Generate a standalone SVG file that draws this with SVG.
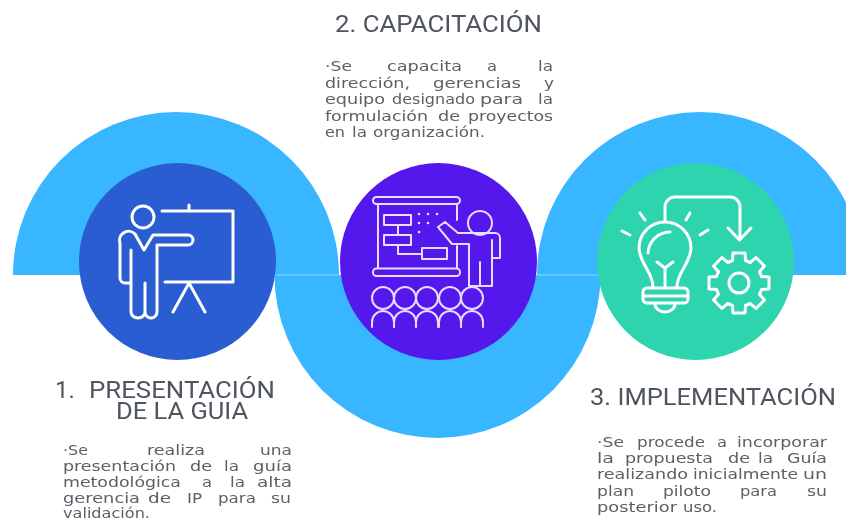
<svg xmlns="http://www.w3.org/2000/svg" xmlns:xlink="http://www.w3.org/1999/xlink" width="846" height="521" viewBox="0 0 846 521">
<defs>
<style>
.band{fill:#38B6FF}
.seam{stroke:#8fd6ff;stroke-width:1;fill:none}
.ico{fill:none;stroke:#fff;stroke-width:3;stroke-linecap:round;stroke-linejoin:round}
.ico2{fill:none;stroke:#e6dcff;stroke-width:2;stroke-linecap:round;stroke-linejoin:round}
.title{font-family:"Roboto","Liberation Sans",sans-serif;font-size:24px;fill:#50545f;filter:url(#soft)}
.body{font-family:"DejaVu Sans","Liberation Sans",sans-serif;font-size:14.5px;fill:#5b5f67;filter:url(#soft)}
</style>
<filter id="soft" x="-5%" y="-20%" width="110%" height="140%"><feGaussianBlur stdDeviation="0.4"/></filter>
<path id="gs" d="M-6.5 -22.5L-6 -30H6L6.5 -22.5L11.3 -20.5"/>
<path id="pers" d="M-11 29V24A11 11 0 0 1 11 24V29"/>
</defs>
<rect width="846" height="521" fill="#fff"/>
<g id="bands">
<path class="band" d="M13 275A163 163 0 0 1 339 275Z"/>
<path class="band" d="M274.500 275A163 163 0 0 0 600.500 275Z"/>
<path class="band" d="M537 275A163 163 0 0 1 863 275Z"/>
<path class="seam" d="M275 275H340M537 275H598"/>
</g>
<g id="node-1">
<circle cx="177.500" cy="261.500" r="98.500" fill="#2A5DD1"/>
<g class="ico">
<circle cx="143" cy="217" r="11"/>
<path d="M162 211H233V282H165M189 205V211M189 283L173 312M189 283L205 312"/>
<path d="M135 234L144 250L153 235H188A5 5 0 0 1 188 245H157V312A6 6 0 0 1 145 312V283M145 312A7 6 0 0 1 131 312V250M131 283H125A5 5 0 0 1 120 278V243A9 9 0 0 1 135 234"/>
</g>
<text class="title"><tspan x="55" y="398">1.</tspan><tspan x="89" y="398" textLength="186" lengthAdjust="spacingAndGlyphs">PRESENTACIÓN</tspan><tspan x="116" y="419" textLength="132" lengthAdjust="spacingAndGlyphs">DE LA GUIA</tspan></text>
<text class="body">
<tspan lengthAdjust="spacingAndGlyphs" x="63" y="455" textLength="25">·Se</tspan><tspan lengthAdjust="spacingAndGlyphs" x="147" y="455" textLength="58">realiza</tspan><tspan lengthAdjust="spacingAndGlyphs" x="260" y="455" textLength="32">una</tspan>
<tspan lengthAdjust="spacingAndGlyphs" x="63" y="471" textLength="113">presentación</tspan><tspan lengthAdjust="spacingAndGlyphs" x="190" y="471" textLength="22">de</tspan><tspan lengthAdjust="spacingAndGlyphs" x="224" y="471" textLength="15">la</tspan><tspan lengthAdjust="spacingAndGlyphs" x="253" y="471" textLength="39">guía</tspan>
<tspan lengthAdjust="spacingAndGlyphs" x="63" y="487" textLength="118">metodológica</tspan><tspan lengthAdjust="spacingAndGlyphs" x="202" y="487" textLength="10">a</tspan><tspan lengthAdjust="spacingAndGlyphs" x="230" y="487" textLength="15">la</tspan><tspan lengthAdjust="spacingAndGlyphs" x="257" y="487" textLength="35">alta</tspan>
<tspan lengthAdjust="spacingAndGlyphs" x="63" y="503" textLength="77">gerencia</tspan><tspan lengthAdjust="spacingAndGlyphs" x="148" y="503" textLength="23">de</tspan><tspan lengthAdjust="spacingAndGlyphs" x="187" y="503" textLength="15">IP</tspan><tspan lengthAdjust="spacingAndGlyphs" x="218" y="503" textLength="38">para</tspan><tspan lengthAdjust="spacingAndGlyphs" x="271" y="503" textLength="20">su</tspan>
<tspan lengthAdjust="spacingAndGlyphs" x="63" y="517.500" textLength="87">validación.</tspan>
</text>
</g>
<g id="node-2">
<circle cx="438.500" cy="261.500" r="98.500" fill="#5518EC"/>
<g class="ico2">
<rect x="373" y="197" width="87" height="7" rx="3.500"/>
<rect x="373" y="268.500" width="87" height="7.500" rx="3.500"/>
<path d="M378 204V268M457 204V220M457 246V268"/>
<rect x="384" y="215" width="27" height="10"/>
<rect x="384" y="235" width="27" height="10"/>
<rect x="422" y="248" width="25" height="11"/>
<path d="M398 225V235M398 245V254H422"/>
<circle cx="480" cy="223" r="12"/>
<path d="M445 222L438 227L452 244H469V286H492V258H500V238A5 5 0 0 0 495 233H458L445 222M492 258V240M480 262V286"/>
<g id="audience">
<circle cx="383" cy="298" r="11"/><circle cx="405" cy="298" r="11"/><circle cx="427" cy="298" r="11"/><circle cx="450" cy="298" r="11"/><circle cx="472" cy="298" r="11"/>
<use xlink:href="#pers" href="#pers" x="383" y="298"/><use xlink:href="#pers" href="#pers" x="405" y="298"/><use xlink:href="#pers" href="#pers" x="427" y="298"/><use xlink:href="#pers" href="#pers" x="450" y="298"/><use xlink:href="#pers" href="#pers" x="472" y="298"/>
</g>
</g>
<g fill="#e6dcff"><circle cx="419" cy="214" r="1.300"/><circle cx="428" cy="214" r="1.300"/><circle cx="437" cy="214" r="1.300"/><circle cx="419" cy="223" r="1.300"/><circle cx="428" cy="223" r="1.300"/><circle cx="419" cy="232" r="1.300"/></g>
<text class="title" x="335" y="32" textLength="207" lengthAdjust="spacingAndGlyphs">2. CAPACITACIÓN</text>
<text class="body">
<tspan lengthAdjust="spacingAndGlyphs" x="325" y="71" textLength="27">·Se</tspan><tspan lengthAdjust="spacingAndGlyphs" x="387" y="71" textLength="75">capacita</tspan><tspan lengthAdjust="spacingAndGlyphs" x="487" y="71" textLength="10">a</tspan><tspan lengthAdjust="spacingAndGlyphs" x="538" y="71" textLength="15">la</tspan>
<tspan lengthAdjust="spacingAndGlyphs" x="325" y="87.500" textLength="85">dirección,</tspan><tspan lengthAdjust="spacingAndGlyphs" x="433" y="87.500" textLength="88">gerencias</tspan><tspan lengthAdjust="spacingAndGlyphs" x="544" y="87.500" textLength="10">y</tspan>
<tspan lengthAdjust="spacingAndGlyphs" x="325" y="104" textLength="60">equipo</tspan><tspan lengthAdjust="spacingAndGlyphs" x="392" y="104" textLength="83">designado</tspan><tspan lengthAdjust="spacingAndGlyphs" x="480" y="104" textLength="43">para</tspan><tspan lengthAdjust="spacingAndGlyphs" x="538" y="104" textLength="15">la</tspan>
<tspan lengthAdjust="spacingAndGlyphs" x="325" y="120.500" textLength="103">formulación</tspan><tspan lengthAdjust="spacingAndGlyphs" x="438" y="120.500" textLength="22">de</tspan><tspan lengthAdjust="spacingAndGlyphs" x="468" y="120.500" textLength="85">proyectos</tspan>
<tspan lengthAdjust="spacingAndGlyphs" x="325" y="137" textLength="20">en</tspan><tspan lengthAdjust="spacingAndGlyphs" x="352" y="137" textLength="15">la</tspan><tspan lengthAdjust="spacingAndGlyphs" x="373" y="137" textLength="112">organización.</tspan>
</text>
</g>
<g id="node-3">
<circle cx="695.500" cy="261.500" r="98.500" fill="#2DD4AE"/>
<g class="ico">
<path d="M653 287C653 272 640 265 639 248A26 26 0 0 1 691 248C690 265 677 272 677 287"/>
<rect x="643" y="288" width="45" height="15" rx="4"/>
<path d="M643 296H688M655 304A10 8 0 0 0 675 304M657 262L665 268L673 262M665 268V287M648 253A22 22 0 0 1 670 232"/>
<path d="M640 213L645 220M622 231L630 235M690 213L686 220M708 230L700 235"/>
<path d="M665 220V207A10 10 0 0 1 675 197H730A10 10 0 0 1 740 207V239M728 228L739.500 240L751 228"/>
<g id="gear" transform="translate(739 283)">
<circle r="10"/>
<use xlink:href="#gs" href="#gs"/><use xlink:href="#gs" href="#gs" transform="rotate(45)"/><use xlink:href="#gs" href="#gs" transform="rotate(90)"/><use xlink:href="#gs" href="#gs" transform="rotate(135)"/><use xlink:href="#gs" href="#gs" transform="rotate(180)"/><use xlink:href="#gs" href="#gs" transform="rotate(225)"/><use xlink:href="#gs" href="#gs" transform="rotate(270)"/><use xlink:href="#gs" href="#gs" transform="rotate(315)"/>
</g>
</g>
<text class="title" x="590" y="405" textLength="246" lengthAdjust="spacingAndGlyphs">3. IMPLEMENTACIÓN</text>
<text class="body">
<tspan lengthAdjust="spacingAndGlyphs" x="597" y="447" textLength="27">·Se</tspan><tspan lengthAdjust="spacingAndGlyphs" x="637" y="447" textLength="68">procede</tspan><tspan lengthAdjust="spacingAndGlyphs" x="717" y="447" textLength="10">a</tspan><tspan lengthAdjust="spacingAndGlyphs" x="737" y="447" textLength="90">incorporar</tspan>
<tspan lengthAdjust="spacingAndGlyphs" x="597" y="463" textLength="17">la</tspan><tspan lengthAdjust="spacingAndGlyphs" x="625" y="463" textLength="88">propuesta</tspan><tspan lengthAdjust="spacingAndGlyphs" x="728" y="463" textLength="22">de</tspan><tspan lengthAdjust="spacingAndGlyphs" x="758" y="463" textLength="15">la</tspan><tspan lengthAdjust="spacingAndGlyphs" x="787" y="463" textLength="40">Guía</tspan>
<tspan lengthAdjust="spacingAndGlyphs" x="597" y="479" textLength="91">realizando</tspan><tspan lengthAdjust="spacingAndGlyphs" x="693" y="479" textLength="105">inicialmente</tspan><tspan lengthAdjust="spacingAndGlyphs" x="803" y="479" textLength="24">un</tspan>
<tspan lengthAdjust="spacingAndGlyphs" x="597" y="496" textLength="37">plan</tspan><tspan lengthAdjust="spacingAndGlyphs" x="663" y="496" textLength="48">piloto</tspan><tspan lengthAdjust="spacingAndGlyphs" x="740" y="496" textLength="37">para</tspan><tspan lengthAdjust="spacingAndGlyphs" x="807" y="496" textLength="20">su</tspan>
<tspan lengthAdjust="spacingAndGlyphs" x="597" y="512" textLength="80">posterior</tspan><tspan lengthAdjust="spacingAndGlyphs" x="683" y="512" textLength="34">uso.</tspan>
</text>
</g>
</svg>
